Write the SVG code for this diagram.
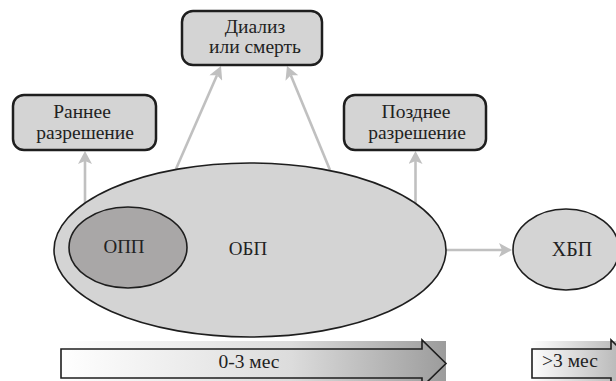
<svg xmlns="http://www.w3.org/2000/svg" width="616" height="381" viewBox="0 0 616 381">
<style>
.box{fill:#d4d4d4;stroke:#1e1e1e;stroke-width:2.5}
.ell{fill:#d4d4d4;stroke:#1e1e1e;stroke-width:1.6}
.t{font-family:"Liberation Serif","Times New Roman",serif;fill:#222;text-anchor:middle}
.c{stroke:#c0c0c0;stroke-width:2.6;fill:none;marker-end:url(#ah)}
.tl{stroke:#1e1e1e;stroke-width:1.6}
</style>
<defs>
<marker id="ah" markerUnits="userSpaceOnUse" markerWidth="14" markerHeight="14" viewBox="0 0 13 14" refX="3" refY="7" orient="auto">
<path d="M0,0 L13,7 L0,14 L3,7 Z" fill="#c0c0c0"/>
</marker>
<linearGradient id="g1" gradientUnits="userSpaceOnUse" x1="59" y1="0" x2="446" y2="0">
<stop offset="0" stop-color="#ffffff"/>
<stop offset="0.6" stop-color="#dcdcdc"/>
<stop offset="1" stop-color="#9c9c9c"/>
</linearGradient>
<linearGradient id="g2" gradientUnits="userSpaceOnUse" x1="530" y1="0" x2="640" y2="0">
<stop offset="0" stop-color="#ffffff"/>
<stop offset="1" stop-color="#a8a8a8"/>
</linearGradient>
</defs>

<g id="connectors">
<line class="c" x1="85" y1="204" x2="85" y2="161"/>
<line class="c" x1="415.5" y1="204" x2="415.5" y2="161"/>
<line class="c" x1="176" y1="169" x2="217" y2="75.2"/>
<line class="c" x1="330" y1="170" x2="290.8" y2="75.2"/>
<line class="c" x1="446" y1="250" x2="502" y2="250"/>
</g>

<g id="obp">
<ellipse class="ell" cx="250" cy="250" rx="196" ry="87"/>
<text class="t" x="248" y="255" font-size="19">ОБП</text>
</g>
<g id="opp">
<ellipse class="ell" cx="128" cy="247.5" rx="59" ry="40.5" fill="#a9a7a7" style="fill:#a9a7a7"/>
<text class="t" x="124" y="253" font-size="19">ОПП</text>
</g>
<g id="hbp">
<ellipse class="ell" cx="566" cy="249.5" rx="53" ry="40.5"/>
<text class="t" x="572" y="256" font-size="20">ХБП</text>
</g>

<g id="early">
<rect class="box" x="13" y="95" width="143" height="55" rx="11"/>
<text class="t" x="82" y="118" font-size="19.5">Раннее</text>
<text class="t" x="85" y="139" font-size="19.5">разрешение</text>
</g>
<g id="dialysis">
<rect class="box" x="182" y="11" width="140" height="54" rx="11"/>
<text class="t" x="255" y="33" font-size="19.5">Диализ</text>
<text class="t" x="255" y="53" font-size="19.5">или смерть</text>
</g>
<g id="late">
<rect class="box" x="344" y="95" width="142" height="55" rx="11"/>
<text class="t" x="416" y="118" font-size="19.5">Позднее</text>
<text class="t" x="417" y="139" font-size="19.5">разрешение</text>
</g>

<g id="time1">
<rect x="59" y="341" width="387" height="46" fill="url(#g1)"/>
<polygon class="tl" points="61,349 422,349 422,340 446,363.5 422,387 422,378 61,378" fill="url(#g1)"/>
<text class="t" x="249" y="368" font-size="19.5">0-3 мес</text>
</g>
<g id="time2">
<rect x="530" y="341" width="105" height="46" fill="url(#g2)"/>
<polygon class="tl" points="532,349 611,349 611,340 635,363.5 611,387 611,378 532,378" fill="url(#g2)"/>
<text class="t" x="570" y="367" font-size="19.5">&gt;3 мес</text>
</g>
</svg>
